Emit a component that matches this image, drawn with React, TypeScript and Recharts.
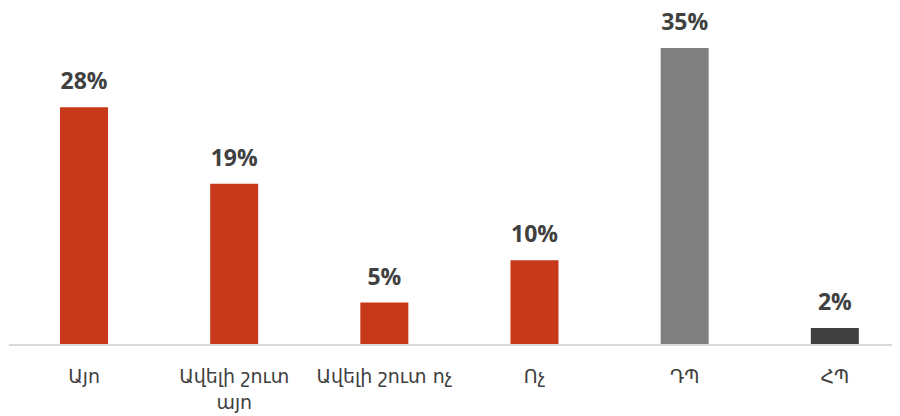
import React from "react";
import { BarChart, Bar, XAxis, YAxis, Cell, LabelList } from "recharts";

const categories = ["Այո", "Ավելի շուտ այո", "Ավելի շուտ ոչ", "Ոչ", "ԴՊ", "ՀՊ"];
const values = [28, 19, 5, 10, 35, 2];
const COLORS = ["#c8391b", "#c8391b", "#c8391b", "#c8391b", "#808080", "#404040"];

const data = categories.map((name, i) => ({ name, value: values[i] }));

const TEXT = "#404040";

function CategoryTick(props: any) {
  const { x, y, payload } = props;
  const label: string = payload.value;
  let lines = [label];
  if (label.length > 13) {
    const cut = label.lastIndexOf(" ");
    lines = [label.slice(0, cut), label.slice(cut + 1)];
  }
  return (
    <text
      x={x}
      y={y}
      textAnchor="middle"
      fill={TEXT}
      fontFamily="'DejaVu Sans', sans-serif"
      fontSize={19}
    >
      {lines.map((l, i) => (
        <tspan key={i} x={x} dy={i === 0 ? 30 : 26}>
          {l}
        </tspan>
      ))}
    </text>
  );
}

export default function App() {
  return (
    <div style={{ width: 892, height: 408, overflow: "hidden" }}>
      <BarChart
        width={902}
        height={408}
        data={data}
        margin={{ top: 14.5, right: 0, left: 1, bottom: 11 }}
      >
        <XAxis
          dataKey="name"
          height={60}
          tickLine={false}
          axisLine={{ stroke: "#d9d9d9", strokeWidth: 2 }}
          tick={<CategoryTick />}
          interval={0}
        />
        <YAxis hide domain={[0, 38]} allowDataOverflow />
        <Bar dataKey="value" barSize={48} isAnimationActive={false}>
          {data.map((d, i) => (
            <Cell key={`cell-${i}`} fill={COLORS[i]} />
          ))}
          <LabelList
            dataKey="value"
            position="top"
            offset={18}
            formatter={(v: any) => `${v}%`}
            fill={TEXT}
            fontFamily="'Open Sans', sans-serif"
            fontWeight="bold"
            fontSize={23}
          />
        </Bar>
      </BarChart>
    </div>
  );
}
